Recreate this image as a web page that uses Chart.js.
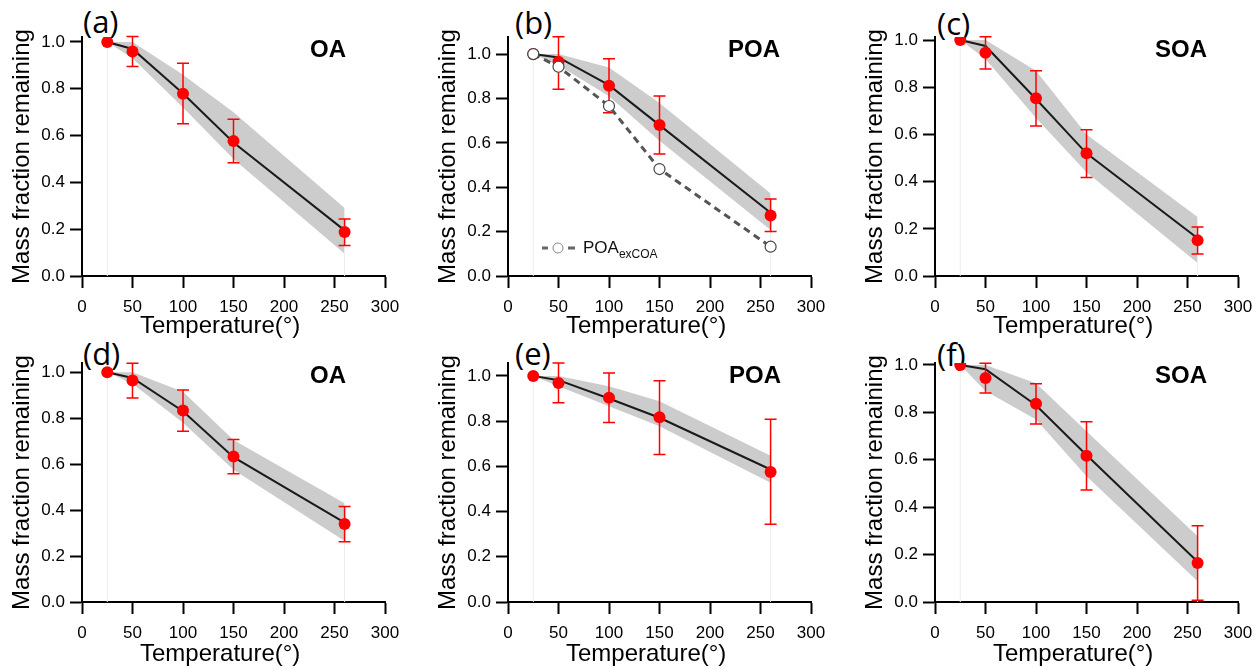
<!DOCTYPE html>
<html>
<head>
<meta charset="utf-8">
<script src="https://cdn.jsdelivr.net/npm/chart.js@4.4.1/dist/chart.umd.min.js"></script>
<style>
  body { margin: 0; background: #fff; width: 1255px; height: 669px; overflow: hidden; }
  canvas { position: absolute; z-index: 1; }
  .tag { position: absolute; z-index: 0; font-family: 'Open Sans', sans-serif; font-size: 31px; line-height: 1; color: #000; }
  .name { position: absolute; z-index: 2; font-family: 'Liberation Sans', Arial, sans-serif; font-weight: bold; font-size: 24px; line-height: 1; color: #000; }
  .leg { position: absolute; z-index: 2; font-family: 'Liberation Sans', Arial, sans-serif; font-size: 17px; line-height: 1; color: #111; }
  .leg span { position: relative; top: 5px; font-size: 12px; }
</style>
</head>
<body>
<canvas id="pa" width="400" height="341" style="left:0;top:0"></canvas>
<canvas id="pb" width="400" height="341" style="left:426px;top:0"></canvas>
<canvas id="pc" width="400" height="341" style="left:853px;top:0"></canvas>
<canvas id="pd" width="400" height="339" style="left:0;top:330px"></canvas>
<canvas id="pe" width="400" height="339" style="left:426px;top:330px"></canvas>
<canvas id="pf" width="400" height="339" style="left:853px;top:330px"></canvas>

<div class="tag" style="left:83px;top:6px">(a)</div>
<div class="tag" style="left:515px;top:7px">(b)</div>
<div class="tag" style="left:937px;top:8px">(c)</div>
<div class="tag" style="left:83px;top:338px">(d)</div>
<div class="tag" style="left:515px;top:338px">(e)</div>
<div class="tag" style="left:937px;top:339px">(f)</div>

<div class="name" style="left:310px;top:37px">OA</div>
<div class="name" style="left:728px;top:37px">POA</div>
<div class="name" style="left:1155px;top:37px">SOA</div>
<div class="name" style="left:310px;top:363px">OA</div>
<div class="name" style="left:729px;top:363px">POA</div>
<div class="name" style="left:1155px;top:363px">SOA</div>

<svg style="position:absolute;left:540px;top:242px;z-index:2" width="40" height="12">
  <line x1="2" y1="6" x2="8" y2="6" stroke="#666" stroke-width="3"/>
  <circle cx="18" cy="6" r="5" fill="#fff" stroke="#888" stroke-width="1"/>
  <line x1="28" y1="6" x2="35" y2="6" stroke="#666" stroke-width="3"/>
</svg>
<div class="leg" style="left:583px;top:239px">POA<span>exCOA</span></div>

<script>
// heating temperatures (same for every panel)
const temps = [25, 50, 100, 150, 260];
const xTicks = [0, 50, 100, 150, 200, 250, 300];
const yTicks = [0, 0.2, 0.4, 0.6, 0.8, 1.0];

// (a) OA
const aMean = [1.0, 0.959, 0.779, 0.577, 0.188];
const aErrHi = [null, 1.023, 0.909, 0.670, 0.244];
const aErrLo = [null, 0.895, 0.650, 0.484, 0.130];
const aFit = [1.0, 0.970, 0.780, 0.570, 0.195];
const aBandHi = [1.0, 1.0, 0.860, 0.700, 0.290];
const aBandLo = [1.0, 0.930, 0.720, 0.500, 0.095];

// (b) POA
const bMean = [1.0, 0.965, 0.857, 0.680, 0.273];
const bErrHi = [null, 1.078, 0.979, 0.811, 0.347];
const bErrLo = [null, 0.841, 0.736, 0.550, 0.200];
const bFit = [1.0, 0.985, 0.860, 0.680, 0.285];
const bBandHi = [1.0, 1.0, 0.940, 0.780, 0.372];
const bBandLo = [1.0, 0.950, 0.810, 0.610, 0.207];
const bExCOA = [1.0, 0.943, 0.766, 0.482, 0.132];

// (c) SOA
const cMean = [1.0, 0.946, 0.753, 0.520, 0.151];
const cErrHi = [null, 1.014, 0.870, 0.620, 0.208];
const cErrLo = [null, 0.877, 0.636, 0.417, 0.093];
const cFit = [1.0, 0.975, 0.750, 0.520, 0.160];
const cBandHi = [1.0, 1.0, 0.870, 0.600, 0.250];
const cBandLo = [1.0, 0.920, 0.670, 0.440, 0.055];

// (d) OA
const dMean = [1.0, 0.964, 0.833, 0.633, 0.339];
const dErrHi = [null, 1.039, 0.923, 0.707, 0.416];
const dErrLo = [null, 0.888, 0.743, 0.558, 0.262];
const dFit = [1.0, 0.975, 0.830, 0.630, 0.345];
const dBandHi = [1.0, 1.0, 0.915, 0.705, 0.430];
const dBandLo = [1.0, 0.950, 0.780, 0.575, 0.265];

// (e) POA
const eMean = [1.0, 0.969, 0.903, 0.817, 0.575];
const eErrHi = [null, 1.057, 1.013, 0.979, 0.808];
const eErrLo = [null, 0.881, 0.794, 0.652, 0.344];
const eFit = [1.0, 0.981, 0.900, 0.815, 0.586];
const eBandHi = [1.0, 1.0, 0.954, 0.888, 0.647];
const eBandLo = [1.0, 0.954, 0.866, 0.777, 0.527];

// (f) SOA
const fMean = [1.0, 0.945, 0.836, 0.617, 0.164];
const fErrHi = [null, 1.007, 0.920, 0.760, 0.322];
const fErrLo = [null, 0.882, 0.751, 0.472, 0.007];
const fFit = [1.0, 0.982, 0.830, 0.620, 0.170];
const fBandHi = [1.0, 1.0, 0.923, 0.720, 0.277];
const fBandLo = [1.0, 0.890, 0.770, 0.530, 0.087];

Chart.defaults.font.family = "'Liberation Sans', Arial, sans-serif";

const pts = ys => temps.map((t, i) => ({ x: t, y: ys[i] }));

// draws the red error bars right after the mean points, before anything on top
const errorBars = {
    id: "errorBars",
    afterDatasetDraw(chart, args) {
        const ds = chart.data.datasets[args.index];
        if (!ds.errLo) return;
        const { ctx, scales: { x, y } } = chart;
        ctx.save();
        ctx.strokeStyle = "#ff0000";
        ctx.lineWidth = 1.5;
        ds.data.forEach((p, i) => {
            if (ds.errLo[i] == null) return;
            const px = x.getPixelForValue(p.x);
            const top = y.getPixelForValue(ds.errHi[i]);
            const bot = y.getPixelForValue(ds.errLo[i]);
            ctx.beginPath();
            ctx.moveTo(px, top); ctx.lineTo(px, bot);
            ctx.moveTo(px - 6, top); ctx.lineTo(px + 6, top);
            ctx.moveTo(px - 6, bot); ctx.lineTo(px + 6, bot);
            ctx.stroke();
        });
        ctx.restore();
    },
};

function makePanel(id, top, p) {
    const datasets = [
        { data: pts(p.mean), showLine: false, pointRadius: 6, pointHoverRadius: 6,
          backgroundColor: "#ff0000", borderWidth: 0, errLo: p.errLo, errHi: p.errHi, order: 1 },
        { data: pts(p.fit), borderColor: "#1a1a1a", borderWidth: 2, pointRadius: 0, order: 3 },
        { data: pts(p.bandHi), borderWidth: 0, pointRadius: 0, fill: "+1",
          backgroundColor: "#cccccc", order: 5 },
        { data: pts(p.bandLo), borderWidth: 0, pointRadius: 0, order: 6 },
        { data: [{ x: temps[0], y: 0 }, { x: temps[0], y: p.bandLo[0] }],
          borderColor: "#ececec", borderWidth: 1, pointRadius: 0, order: 7 },
        { data: [{ x: temps[4], y: 0 }, { x: temps[4], y: p.bandLo[4] }],
          borderColor: "#ececec", borderWidth: 1, pointRadius: 0, order: 7 },
    ];
    if (p.extra) {
        datasets.push({ data: pts(p.extra), borderColor: "#555", borderWidth: 3, borderDash: [7, 5],
            pointRadius: 5.5, pointBackgroundColor: "#fff", pointBorderColor: "#444",
            pointBorderWidth: 1.2, order: 0 });
    }
    const axisH = top ? 67 : 65;
    new Chart(document.getElementById(id), {
        type: "line",
        data: { datasets },
        plugins: [errorBars],
        options: {
            responsive: false,
            animation: false,
            layout: { padding: { left: 0, right: 15, top: top ? 33 : 37, bottom: 0 } },
            plugins: { legend: { display: false }, tooltip: { enabled: false } },
            scales: {
                x: {
                    type: "linear", min: 0, max: 300,
                    afterBuildTicks: s => { s.ticks = xTicks.map(v => ({ value: v })); },
                    afterFit: s => { s.height = axisH; s.paddingLeft = 0; s.paddingRight = 0; },
                    border: { color: "#000", width: 2 },
                    grid: { drawOnChartArea: false, tickLength: 12, tickWidth: 2, tickColor: "#000" },
                    ticks: { color: "#000", font: { size: 17 }, padding: 9, maxRotation: 0, autoSkip: false },
                    title: { display: true, text: "Temperature(°)    ", color: "#000", font: { size: 24 }, padding: 0 },
                },
                y: {
                    type: "linear", min: 0, max: p.yMax,
                    afterBuildTicks: s => { s.ticks = yTicks.map(v => ({ value: v })); },
                    afterFit: s => { s.width = 82; s.paddingTop = 0; s.paddingBottom = 0; },
                    border: { color: "#000", width: 2 },
                    grid: { drawOnChartArea: false, tickLength: 12, tickWidth: 2, tickColor: "#000" },
                    ticks: { color: "#000", font: { size: 17 }, padding: 5, callback: v => v.toFixed(1) },
                    title: { display: true, text: "Mass fraction remaining", color: "#000", font: { size: 24 },
                             padding: { top: 8, bottom: 0 } },
                },
            },
        },
    });
}

makePanel("pa", 0, { mean: aMean, errHi: aErrHi, errLo: aErrLo, fit: aFit, bandHi: aBandHi, bandLo: aBandLo, yMax: 1.021 });
makePanel("pb", 0, { mean: bMean, errHi: bErrHi, errLo: bErrLo, fit: bFit, bandHi: bBandHi, bandLo: bBandLo, extra: bExCOA, yMax: 1.077 });
makePanel("pc", 0, { mean: cMean, errHi: cErrHi, errLo: cErrLo, fit: cFit, bandHi: cBandHi, bandLo: cBandLo, yMax: 1.013 });
makePanel("pd", 1, { mean: dMean, errHi: dErrHi, errLo: dErrLo, fit: dFit, bandHi: dBandHi, bandLo: dBandLo, yMax: 1.04 });
makePanel("pe", 1, { mean: eMean, errHi: eErrHi, errLo: eErrLo, fit: eFit, bandHi: eBandHi, bandLo: eBandLo, yMax: 1.057 });
makePanel("pf", 1, { mean: fMean, errHi: fErrHi, errLo: fErrLo, fit: fFit, bandHi: fBandHi, bandLo: fBandLo, yMax: 1.008 });
</script>
</body>
</html>
